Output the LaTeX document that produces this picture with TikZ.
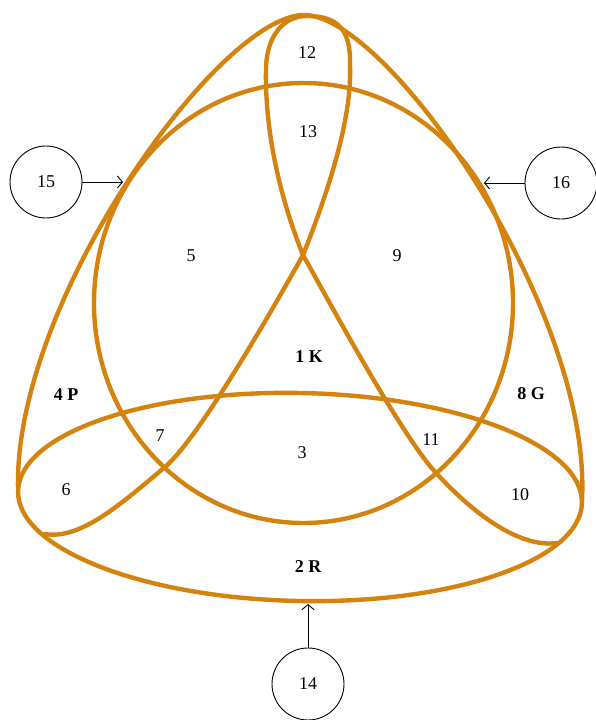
\documentclass[tikz,border=0pt]{standalone}
\usepackage{fontspec}
\setmainfont{Liberation Serif}
\usetikzlibrary{arrows.meta}
\definecolor{rib}{RGB}{212,131,14}
\begin{document}
\begin{tikzpicture}[x=1pt,y=-1pt,
  band/.style={draw=rib,line width=4.4pt,line join=round,line cap=round},
  lab/.style={font=\fontsize{18}{18}\selectfont,inner sep=0pt},
  blab/.style={font=\fontsize{18}{18}\selectfont\bfseries,inner sep=0pt},
  ring/.style={draw=black,circle,line width=0.9pt,minimum size=72pt,inner sep=0pt,font=\fontsize{18}{18}\selectfont},
  ptr/.style={-{Straight Barb[length=5pt,width=12pt]},line width=0.9pt}]
\useasboundingbox (0,0) rectangle (595,720);
% circle K
\draw[band] (303.5,303) ellipse [x radius=209.5pt, y radius=220pt];
% ellipse R
\draw[band, rotate around={-1.2:(300,497)}] (300,497) ellipse [x radius=282pt, y radius=104pt];
% outer arch
\draw[band] (18,488) .. controls (14,300) and (220,15) .. (304,15)
  .. controls (388,15) and (592,310) .. (582,500);
% ribbon
\draw[band] (45,534) .. controls (80,540) and (120,505) .. (165,467)
  .. controls (200,437) and (275,305) .. (303,255)
  .. controls (335,175) and (352,110) .. (350,65)
  .. controls (351,30) and (338,16) .. (307,16)
  .. controls (282,16) and (266,38) .. (266,70)
  .. controls (265,120) and (275,185) .. (303,255)
  .. controls (331,305) and (405,442) .. (438,475)
  .. controls (475,515) and (520,548) .. (557,543);
% labels
\node[lab] (l12) at (307,53) {12};
\node[lab] (l13) at (308,132) {13};
\node[lab] (l5) at (191,256) {5};
\node[lab] (l9) at (397,256) {9};
\node[blab] (l1) at (309,357) {1 K};
\node[blab] (l4) at (66,395) {4 P};
\node[blab] (l8) at (531,394) {8 G};
\node[lab] (l7) at (160,436) {7};
\node[lab] (l3) at (302,453) {3};
\node[lab] (l11) at (431,440) {11};
\node[lab] (l6) at (66,490) {6};
\node[lab] (l10) at (520,495) {10};
\node[blab] (l2) at (308,567) {2 R};
% pointer circles
\node[ring] (c15) at (46,182) {15};
\node[ring] (c16) at (561,183) {16};
\node[ring] (c14) at (308,684) {14};
\coordinate (t15) at (123,182);
\coordinate (t16) at (484,183);
\coordinate (t14) at (308,604);
\draw[ptr] (c15) -- (t15);
\draw[ptr] (c16) -- (t16);
\draw[ptr] (c14) -- (t14);
\end{tikzpicture}
\end{document}
